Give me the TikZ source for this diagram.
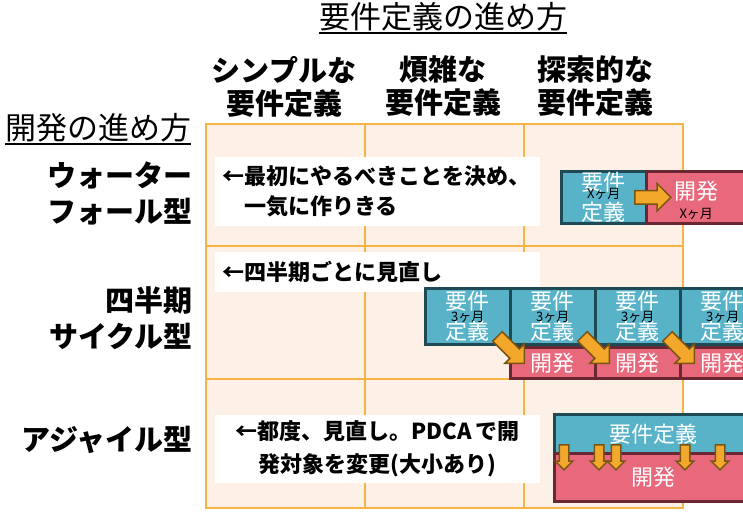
\documentclass[tikz,border=0pt]{standalone}
\usepackage{fontspec}
\setmainfont{Noto Sans CJK JP}
\usetikzlibrary{shapes.arrows}
\definecolor{cellfill}{HTML}{FDF0E7}
\definecolor{cellline}{HTML}{F5B445}
\definecolor{reqfill}{HTML}{58B3C9}
\definecolor{reqline}{HTML}{1F4A55}
\definecolor{devfill}{HTML}{E8697C}
\definecolor{devline}{HTML}{6A2733}
\definecolor{arrfill}{HTML}{F3A82C}
\definecolor{arrline}{HTML}{7A5512}
\begin{document}
\begin{tikzpicture}[x=1pt,y=-1pt,
    cell/.style={draw=cellline,fill=cellfill,line width=1.5pt,anchor=north west,minimum width=159pt,inner sep=0pt},
    head/.style={font=\bfseries\fontsize{29}{33}\selectfont,align=center,inner sep=0pt},
    rowhead/.style={font=\bfseries\fontsize{29}{36}\selectfont,align=right,anchor=east,inner sep=0pt},
    memo/.style={fill=white,anchor=north west,font=\bfseries\fontsize{22}{30}\selectfont,text width=311pt,inner xsep=7pt,inner ysep=0pt},
    req/.style={draw=reqline,fill=reqfill,line width=2.5pt,anchor=north west,text=white,font=\fontsize{22}{30}\selectfont,align=center,inner sep=0pt},
    dev/.style={req,draw=devline,fill=devfill},
    span/.style={font=\fontsize{13}{13}\selectfont,inner sep=0pt},
    arr/.style={single arrow,draw=arrline,fill=arrfill,line width=1.5pt,inner xsep=0pt,inner ysep=6pt,single arrow head extend=7pt}]
    \useasboundingbox (0,0) rectangle (743,514);
    \fill[white] (0,0) rectangle (743,514);
    \clip (0,0) rectangle (743,514);
    \def\w{85}%box width
    % grid
    \foreach \x/\c in {205/1,364/2,523/3}{
        \foreach \y/\h/\r in {123/122/1,245/133/2,378/129/3}
        \node[cell,minimum height=\h pt] (c\c\r) at (\x,\y) {};
    }
    % titles
    \node[font=\fontsize{31}{31}\selectfont,inner sep=0pt,anchor=base] (reqway) at (443,28) {要件定義の進め方};
    \node[font=\fontsize{31}{31}\selectfont,inner sep=0pt,anchor=base west] (devway) at (5,139) {開発の進め方};
    \draw[line width=2.5pt] ([yshift=-5pt]reqway.base west)--([yshift=-5pt]reqway.base east)
    ([yshift=-5pt]devway.base west)--([yshift=-5pt]devway.base east);
    \path
    foreach \x/\n/\t in {284/h1/シンプルな,443/h2/煩雑な,595/h3/探索的な} {(\x,86.5) node[head] (\n) {\t\\要件定義}}
    foreach \y/\n/\t in {193/r1/ウォーター\\フォール型,318/r2/四半期\\サイクル型,440/r3/アジャイル型} {(193,\y) node[rowhead] (\n) {\t}}
    ;
    \node[memo,minimum height=69pt,align=left] (m1) at (215,157) {←最初にやるべきことを決め、\\\hspace*{1em}一気に作りきる};
    \node[memo,minimum height=40pt,align=left] (m2) at (215,252) {←四半期ごとに見直し};
    \node[memo,minimum height=68pt,align=center,font=\bfseries\fontsize{22}{33}\selectfont] (m3) at (215,415) {←都度、見直し。PDCA\,で開\\発対象を変更(大小あり)};
    % waterfall
    \node[req,minimum width=\w pt,minimum height=52pt] (wreq) at (560,170) {要件\\定義};
    \node[dev,minimum width=100pt,minimum height=52pt] (wdev) at (645,170) {};
    \node[text=white,font=\fontsize{22}{22}\selectfont,inner sep=0pt] (wdevtxt) at ([yshift=6pt]wdev.center) {開発};
    \node[span] (wreqspan) at ([yshift=3pt]wreq.center) {Xヶ月};
    \node[span] (wdevspan) at ([yshift=-17pt]wdev.center) {Xヶ月};
    \node[arr,minimum height=36pt] (warr) at ([xshift=2pt]wreq.east) {};
    % quarterly
    \foreach \i in {1,...,4}{
        \node[req,minimum width=\w pt,minimum height=56pt] (q\i) at (339+\w*\i,287) {要件\\定義};
        \node[span] (qspan\i) at ([yshift=-1pt]q\i.center) {3ヶ月};
    }
    \foreach \i in {2,3,4} \node[dev,minimum width=\w pt,minimum height=31pt] (d\i) at (339+\w*\i,346) {開発};
    \foreach \i in {1,2,3} \node[arr,rotate=-45,minimum height=38pt] (qarr\i) at ([shift={(-3pt,-2pt)}]q\i.south east) {};
    % agile
    \node[req,minimum width=198pt,minimum height=39pt] (areq) at (553,413) {要件定義};
    \node[dev,minimum width=198pt,minimum height=48pt] (adev) at (553,452) {開発};
    \foreach \x in {564,599,616,685,720} \node[arr,rotate=-90,minimum height=25pt,inner ysep=4pt,single arrow head extend=4pt] (aarr\x) at (\x,455) {};
\end{tikzpicture}
\end{document}
